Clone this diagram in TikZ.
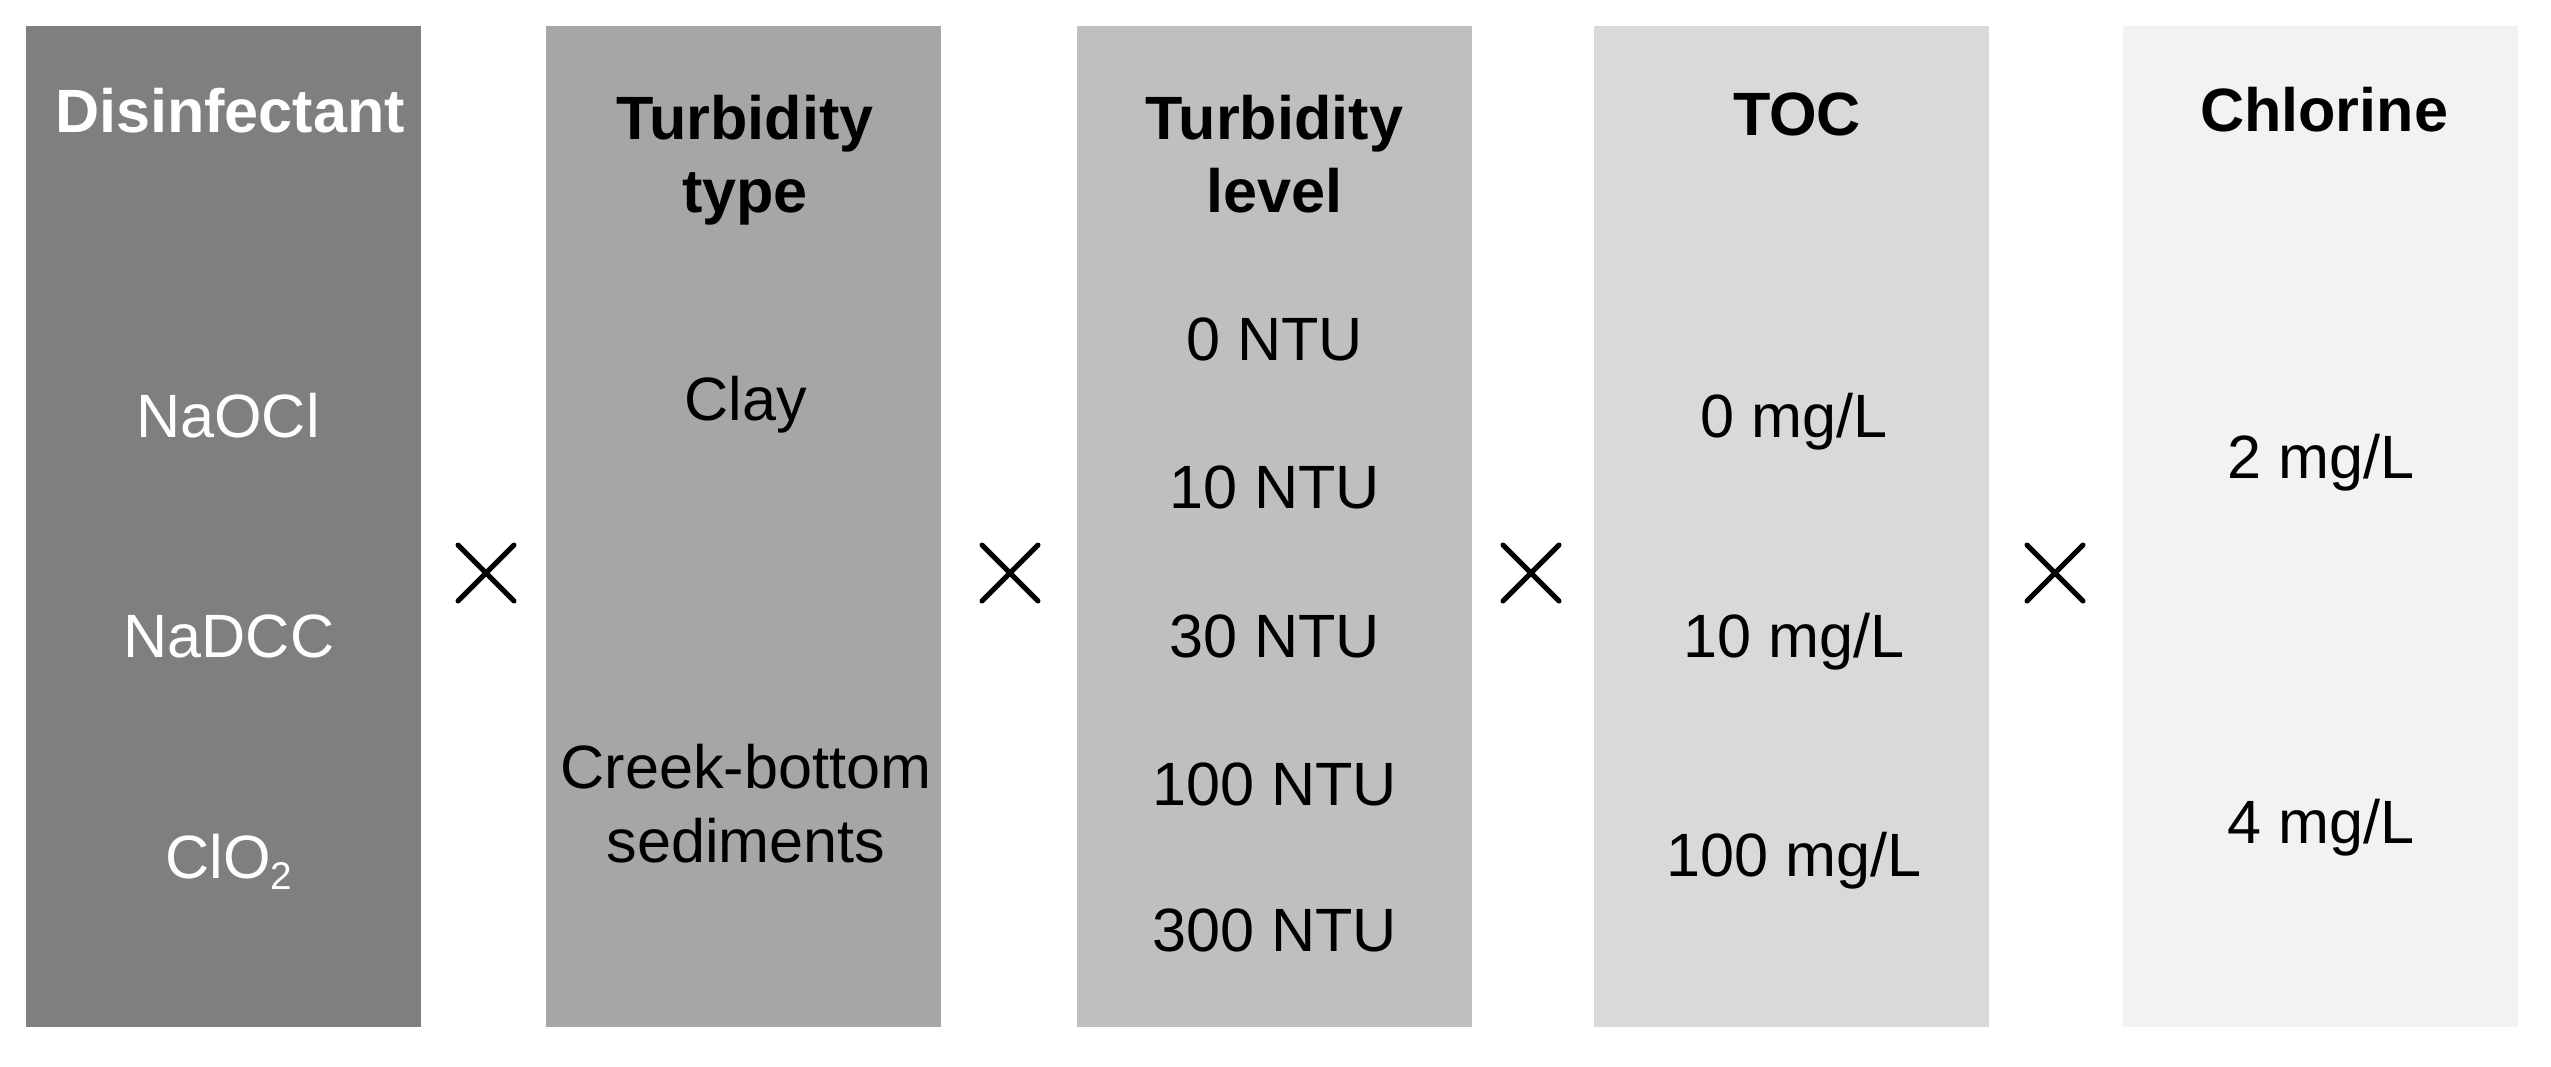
\documentclass[tikz,border=0pt]{standalone}
\usepackage{fontspec}
\setmainfont{Liberation Sans}
\definecolor{g1}{HTML}{7F7F7F}
\definecolor{g2}{HTML}{A6A6A6}
\definecolor{g3}{HTML}{BFBFBF}
\definecolor{g4}{HTML}{D9D9D9}
\definecolor{g5}{HTML}{F2F2F2}
\newcommand{\mysub}[1]{\raisebox{-3.4pt}{\fontsize{11pt}{11pt}\selectfont #1}}
\begin{document}
\begin{tikzpicture}[x=0.1mm,y=-0.1mm,
  colbox/.style={draw=none, minimum width=39.5mm, minimum height=100.1mm, inner sep=0pt, outer sep=0pt},
  txt/.style={anchor=base, inner sep=0pt, font=\fontsize{17.4pt}{21pt}\selectfont},
  hdr/.style={txt, font=\fontsize{17.4pt}{21pt}\selectfont\bfseries},
  crossline/.style={line width=0.5mm, line cap=round, black}]
\useasboundingbox[fill=white] (0,0) rectangle (2551,1066);
% columns
\node[colbox, fill=g1] (c1) at (223.5,526.5) {};
\node[colbox, fill=g2] (c2) at (743.5,526.5) {};
\node[colbox, fill=g3] (c3) at (1274.5,526.5) {};
\node[colbox, fill=g4] (c4) at (1791,526.5) {};
\node[colbox, fill=g5] (c5) at (2320,526.5) {};
% column 1
\node[hdr, text=white] (h1) at (230,132) {Disinfectant};
\node[txt, text=white] (a1) at (228,437) {NaOCl};
\node[txt, text=white] (a2) at (229,657) {NaDCC};
\node[txt, text=white] (a3) at (229,878) {ClO\mysub{2}};
% column 2
\node[hdr] (h2a) at (745,139) {Turbidity};
\node[hdr] (h2b) at (745,212) {type};
\node[txt] (b1) at (746,420) {Clay};
\node[txt] (b2a) at (746,788) {Creek-bottom};
\node[txt] (b2b) at (746,862) {sediments};
% column 3
\node[hdr] (h3a) at (1274.5,139) {Turbidity};
\node[hdr] (h3b) at (1274.5,212) {level};
\node[txt] (t1) at (1274.5,360) {0 NTU};
\node[txt] (t2) at (1274.5,508) {10 NTU};
\node[txt] (t3) at (1274.5,657) {30 NTU};
\node[txt] (t4) at (1274.5,805) {100 NTU};
\node[txt] (t5) at (1274.5,951) {300 NTU};
% column 4
\node[hdr] (h4) at (1797,135) {TOC};
\node[txt] (o1) at (1794,437) {0 mg/L};
\node[txt] (o2) at (1794,657) {10 mg/L};
\node[txt] (o3) at (1794,876) {100 mg/L};
% column 5
\node[hdr] (h5) at (2324,131) {Chlorine};
\node[txt] (k1) at (2321,478) {2 mg/L};
\node[txt] (k2) at (2321,843) {4 mg/L};
% multiplication signs
\foreach \n/\cx in {m1/486, m2/1010, m3/1531, m4/2055}{
  \coordinate (\n) at (\cx,573);
  \draw[crossline] ([shift={(-28,-28)}]\n) -- ([shift={(28,28)}]\n);
  \draw[crossline] ([shift={(-28,28)}]\n) -- ([shift={(28,-28)}]\n);
}
\end{tikzpicture}
\end{document}
